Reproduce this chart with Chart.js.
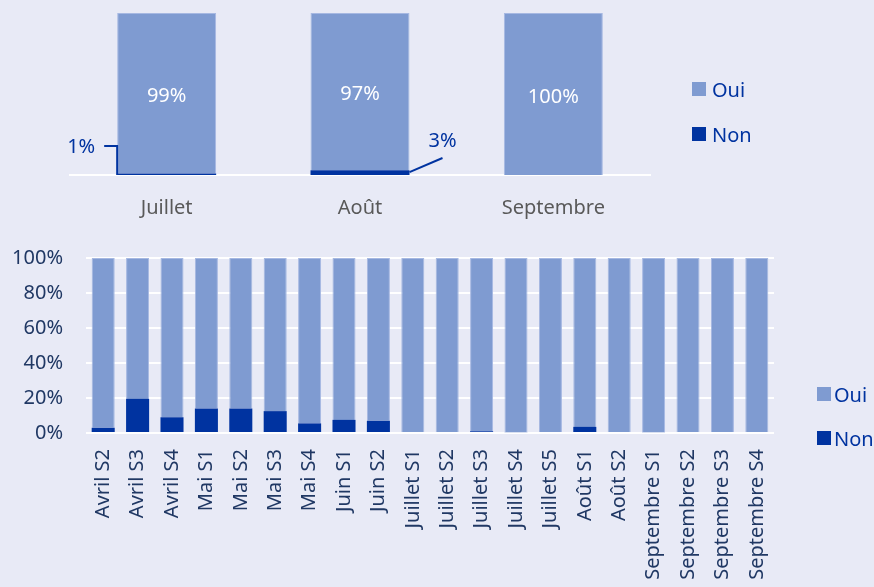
<!DOCTYPE html>
<html lang="fr">
<head>
<meta charset="utf-8">
<script src="https://cdn.jsdelivr.net/npm/chart.js@4.4.0/dist/chart.umd.min.js"></script>
<style>
    html, body { margin: 0; padding: 0; background: #E8EAF6; }
    body { width: 874px; height: 587px; position: relative; overflow: hidden; font-family: "Noto Sans", sans-serif; }
    .wrap { position: absolute; left: 0; width: 874px; }
    #topWrap { top: 0; height: 230px; }
    #bottomWrap { top: 230px; height: 357px; }
    .legend-item { position: absolute; height: 24px; display: flex; align-items: center; font-size: 20px; color: #0033A0; }
    .legend-item .box { width: 14px; height: 14px; display: inline-block; margin-right: 6px; }
</style>
</head>
<body>
<div class="wrap" id="topWrap"><canvas id="monthChart" width="874" height="230"></canvas></div>
<div class="wrap" id="bottomWrap"><canvas id="weekChart" width="874" height="357"></canvas></div>

<div class="legend-item" style="left:692px; top:77px;"><span class="box" style="background:#7F9BD1"></span>Oui</div>
<div class="legend-item" style="left:692px; top:122px;"><span class="box" style="background:#0033A0"></span>Non</div>
<div class="legend-item" style="left:817px; top:382px;"><span class="box" style="background:#7F9BD1; margin-right:3px"></span>Oui</div>
<div class="legend-item" style="left:817px; top:426px;"><span class="box" style="background:#0033A0; margin-right:3px"></span>Non</div>

<script>
// Monthly totals (%)
const monthLabels = ['Juillet', 'Août', 'Septembre'];
const monthOui = [99, 97, 100];
const monthNon = [1, 3, 0];

// Weekly split (%)
const weekLabels = [
    'Avril S2', 'Avril S3', 'Avril S4', 'Mai S1', 'Mai S2', 'Mai S3', 'Mai S4',
    'Juin S1', 'Juin S2', 'Juillet S1', 'Juillet S2', 'Juillet S3', 'Juillet S4',
    'Juillet S5', 'Août S1', 'Août S2', 'Septembre S1', 'Septembre S2',
    'Septembre S3', 'Septembre S4'
];
const weekNon = [3, 19.5, 9, 14, 14, 12.5, 5.5, 7.5, 7, 0, 0, 1, 0.5, 0, 3.5, 0, 0.5, 0, 0, 0];
const weekOui = [97, 80.5, 91, 86, 86, 87.5, 94.5, 92.5, 93, 100, 100, 99, 99.5, 100, 96.5, 100, 99.5, 100, 100, 100];

const yTicks = [0, 20, 40, 60, 80, 100];

const OUI_COLOR = '#7F9BD1';
const NON_COLOR = '#0033A0';
const FONT = 'Noto Sans';

// where the leader line of the small "Non" label goes
const nonLeaderSide = ['left', 'right', null];

const monthLabelPlugin = {
    id: 'monthLabels',
    afterDatasetsDraw(chart) {
        const ctx = chart.ctx;
        const nonMeta = chart.getDatasetMeta(0);
        const ouiMeta = chart.getDatasetMeta(1);
        ctx.save();
        ctx.font = '20px "' + FONT + '"';
        ctx.textAlign = 'center';
        ctx.textBaseline = 'middle';

        ouiMeta.data.forEach(function(bar, i) {
            ctx.fillStyle = '#ffffff';
            ctx.fillText(monthOui[i] + '%', bar.x, (bar.y + bar.base) / 2 + 3);
        });

        ctx.strokeStyle = NON_COLOR;
        ctx.fillStyle = NON_COLOR;
        ctx.lineWidth = 2;
        nonMeta.data.forEach(function(bar, i) {
            if (!monthNon[i] || !nonLeaderSide[i]) return;
            const text = monthNon[i] + '%';
            if (nonLeaderSide[i] === 'left') {
                const xl = bar.x - bar.width / 2;
                ctx.beginPath();
                ctx.moveTo(xl, bar.base);
                ctx.lineTo(xl, bar.base - 29);
                ctx.lineTo(xl - 13, bar.base - 29);
                ctx.stroke();
                ctx.fillText(text, xl - 36, bar.base - 28);
            } else {
                const xr = bar.x + bar.width / 2;
                ctx.beginPath();
                ctx.moveTo(xr, bar.y + 2);
                ctx.lineTo(xr + 33, bar.base - 17);
                ctx.stroke();
                ctx.fillText(text, xr + 33, bar.base - 34);
            }
        });
        ctx.restore();
    }
};

function initMonthChart() {
    const ctx = document.getElementById('monthChart').getContext('2d');
    new Chart(ctx, {
        type: 'bar',
        data: {
            labels: monthLabels,
            datasets: [{
                label: 'Non',
                data: monthNon,
                backgroundColor: NON_COLOR
            }, {
                label: 'Oui',
                data: monthOui,
                backgroundColor: OUI_COLOR,
                borderColor: '#A6B8E2',
                borderWidth: 1
            }]
        },
        options: {
            responsive: false,
            animation: false,
            categoryPercentage: 1,
            barPercentage: 0.512,
            layout: {
                padding: { left: 70, right: 224, top: 13, bottom: 11 }
            },
            plugins: {
                legend: { display: false },
                tooltip: { enabled: false }
            },
            scales: {
                x: {
                    stacked: true,
                    grid: { display: false, drawTicks: false },
                    border: { display: true, color: '#ffffff', width: 2 },
                    ticks: {
                        padding: 21,
                        color: '#595959',
                        font: { family: FONT, size: 20 }
                    },
                    afterFit: function(scale) { scale.height = 44; }
                },
                y: {
                    stacked: true,
                    display: false,
                    min: 0,
                    max: 100
                }
            }
        },
        plugins: [monthLabelPlugin]
    });
}

function initWeekChart() {
    const ctx = document.getElementById('weekChart').getContext('2d');
    new Chart(ctx, {
        type: 'bar',
        data: {
            labels: weekLabels,
            datasets: [{
                label: 'Non',
                data: weekNon,
                backgroundColor: NON_COLOR
            }, {
                label: 'Oui',
                data: weekOui,
                backgroundColor: OUI_COLOR,
                borderColor: '#A6B8E2',
                borderWidth: 1
            }]
        },
        options: {
            responsive: false,
            animation: false,
            categoryPercentage: 1,
            barPercentage: 0.67,
            layout: {
                padding: { left: 10, right: 100, top: 28, bottom: 4 }
            },
            plugins: {
                legend: { display: false },
                tooltip: { enabled: false }
            },
            scales: {
                x: {
                    stacked: true,
                    grid: { display: false, drawTicks: false },
                    border: { display: false },
                    ticks: {
                        autoSkip: false,
                        minRotation: 90,
                        maxRotation: 90,
                        padding: 16,
                        color: '#203864',
                        font: { family: FONT, size: 20 }
                    },
                    afterFit: function(scale) { scale.height = 150; }
                },
                y: {
                    stacked: true,
                    min: yTicks[0],
                    max: yTicks[yTicks.length - 1],
                    afterBuildTicks: function(scale) {
                        scale.ticks = yTicks.map(function(v) { return { value: v }; });
                    },
                    grid: { color: '#ffffff', lineWidth: 2, drawTicks: false },
                    border: { display: false },
                    ticks: {
                        padding: 23,
                        color: '#203864',
                        font: { family: FONT, size: 20 },
                        callback: function(value) { return value + '%'; }
                    },
                    afterFit: function(scale) {
                        scale.width = 76;
                        scale.paddingTop = 0;
                        scale.paddingBottom = 0;
                    }
                }
            }
        }
    });
}

document.addEventListener('DOMContentLoaded', function() {
    initMonthChart();
    initWeekChart();
});
</script>
</body>
</html>
